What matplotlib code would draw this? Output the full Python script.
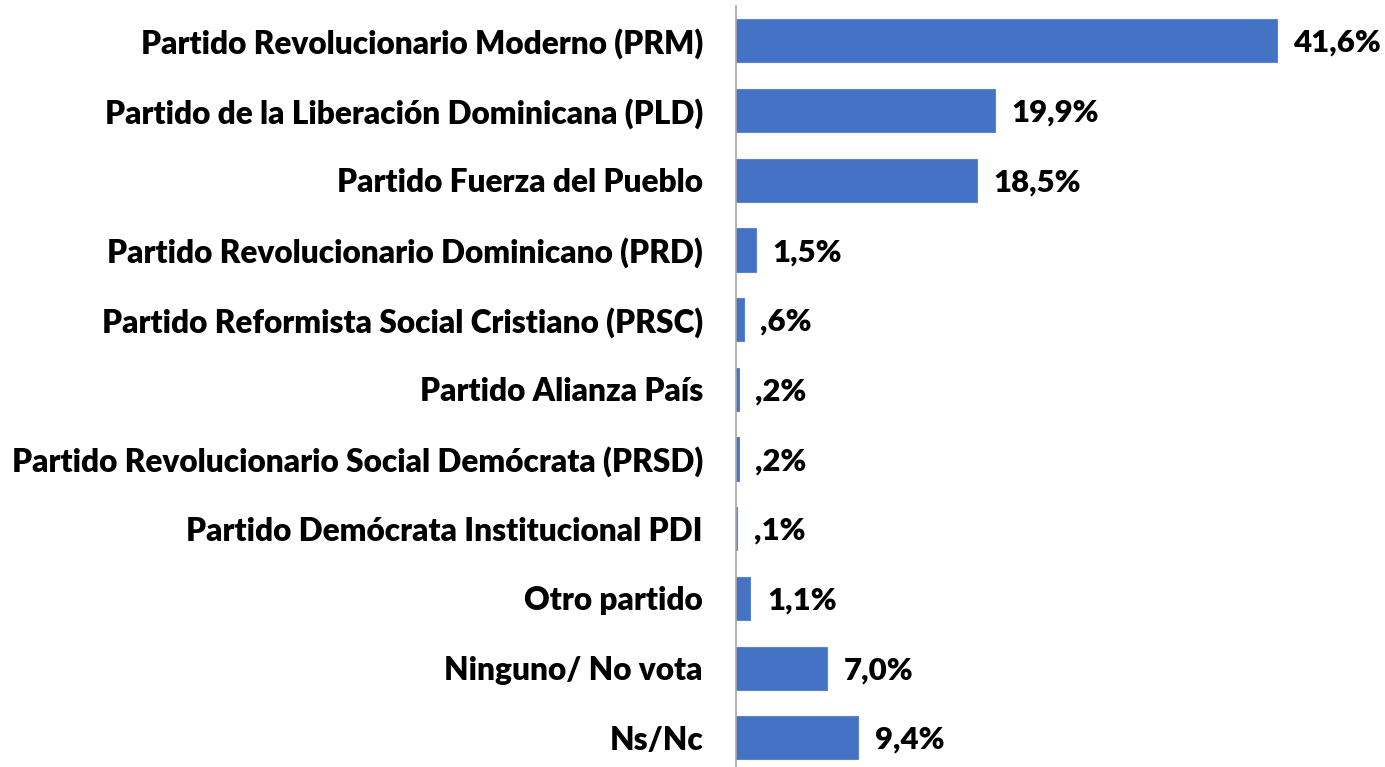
import matplotlib
matplotlib.use("Agg")
import matplotlib.pyplot as plt

categories = [
    "Partido Revolucionario Moderno (PRM)",
    "Partido de la Liberación Dominicana (PLD)",
    "Partido Fuerza del Pueblo",
    "Partido Revolucionario Dominicano (PRD)",
    "Partido Reformista Social Cristiano (PRSC)",
    "Partido Alianza País",
    "Partido Revolucionario Social Demócrata (PRSD)",
    "Partido Demócrata Institucional PDI",
    "Otro partido",
    "Ninguno/ No vota",
    "Ns/Nc",
]
values = [41.6, 19.9, 18.5, 1.5, 0.6, 0.2, 0.2, 0.1, 1.1, 7.0, 9.4]
value_labels = ["41,6%", "19,9%", "18,5%", "1,5%", ",6%", ",2%", ",2%", ",1%", "1,1%", "7,0%", "9,4%"]

plt.rcParams['font.family'] = ['Lato', 'DejaVu Sans']

W, H = 1385, 767
fig = plt.figure(figsize=(W / 100, H / 100), dpi=100)
left_px, top_px = 736, 6
ax = fig.add_axes([left_px / W, 0, 1 - left_px / W, 1 - top_px / H])

ypos = list(range(len(categories)))
ax.barh(ypos, values, height=0.62, color="#4472C4", edgecolor="#5B86CF", linewidth=0.8)

row_px = 69.7
ax.set_ylim(-0.5 + (H - top_px) / row_px, -0.5)
ax.set_xlim(0, (W - left_px) / 13.0)

for y, v, lab in zip(ypos, values, value_labels):
    ax.annotate(lab, (v, y), xytext=(12, -1.5), textcoords="offset points",
                ha="left", va="center", fontsize=22.4, fontweight="heavy", color="black")

ax.set_yticks(ypos)
ax.set_yticklabels(categories, fontsize=22.75, fontweight="heavy")
ax.tick_params(axis="y", length=0, pad=33 * 0.72)
ax.set_xticks([])
for s in ["top", "right", "bottom"]:
    ax.spines[s].set_visible(False)
ax.spines["left"].set_color("#A6A6A6")
ax.spines["left"].set_linewidth(1.2)

fig.savefig("out.png", dpi=100)
